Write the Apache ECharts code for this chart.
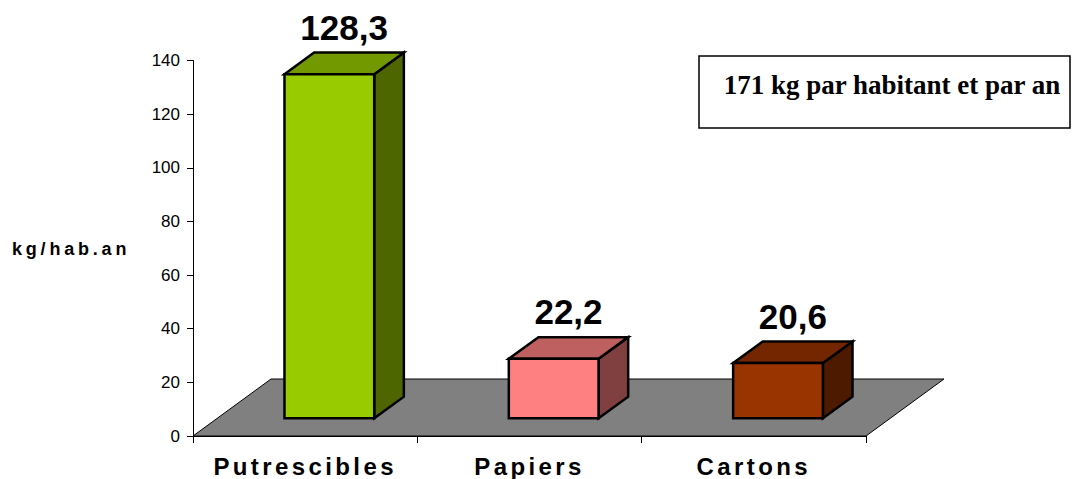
<!DOCTYPE html>
<html>
<head>
<meta charset="utf-8">
<script src="https://cdn.jsdelivr.net/npm/echarts@6/dist/echarts.min.js"></script>
<style>
  html, body { margin: 0; padding: 0; background: #fff; }
  #chart { width: 1073px; height: 479px; }
  /* spaced-out lettering for the category names and the unit label */
  #chart text[style*="24px"] { letter-spacing: 3.4px; }
  #chart text[style*="18px"] { letter-spacing: 3.8px; }
</style>
</head>
<body>
<div id="chart"></div>
<script>
// Household waste per inhabitant, by fraction (kg/hab.an)
const categories = ['Putrescibles', 'Papiers', 'Cartons'];
const values = [128.3, 22.2, 20.6];

// value axis ticks
const yMin = 0;
const yMax = 140;
const yStep = 20;

const unitLabel = 'kg/hab.an';
const totalNote = '171 kg par habitant et par an';

// face colours: front, top, right side
const frontColors = ['#99CC00', '#FF8080', '#993300'];
const topColors   = ['#739900', '#BF6060', '#732600'];
const sideColors  = ['#4D6600', '#804040', '#4D1A00'];

// pseudo-3D geometry (pixels): depth vector of the floor, where the bars sit in it
const DEPTH = [78, -57];
const FRONT = 0.31;
const BACK = 0.69;
const BAR_RATIO = 0.40;

const fmt = v => String(v).replace('.', ',');

function renderFloor(params, api) {
  const cs = params.coordSys;
  const y0 = api.coord([0, 0])[1];
  const x0 = cs.x, x1 = cs.x + cs.width;
  return {
    type: 'polygon',
    silent: true,
    shape: { points: [[x0, y0], [x1, y0], [x1 + DEPTH[0], y0 + DEPTH[1]], [x0 + DEPTH[0], y0 + DEPTH[1]]] },
    style: { fill: '#808080', stroke: '#000', lineWidth: 1 }
  };
}

function renderBar(params, api) {
  const i = api.value(0);
  const v = api.value(1);
  const base = api.coord([i, 0]);
  const top = api.coord([i, v]);
  const w = api.size([1, 0])[0] * BAR_RATIO;
  const dxF = DEPTH[0] * FRONT, dyF = DEPTH[1] * FRONT;
  const bdx = DEPTH[0] * (BACK - FRONT), bdy = DEPTH[1] * (BACK - FRONT);
  const x0 = base[0] - w / 2 + dxF;
  const x1 = x0 + w;
  const yb = base[1] + dyF;
  const yt = top[1] + dyF;
  const line = { stroke: '#000', lineWidth: 2.5, lineJoin: 'miter' };
  return {
    type: 'group',
    children: [
      {
        type: 'polygon',
        shape: { points: [[x1, yt], [x1 + bdx, yt + bdy], [x1 + bdx, yb + bdy], [x1, yb]] },
        style: Object.assign({ fill: sideColors[i] }, line)
      },
      {
        type: 'polygon',
        shape: { points: [[x0, yt], [x1, yt], [x1 + bdx, yt + bdy], [x0 + bdx, yt + bdy]] },
        style: Object.assign({ fill: topColors[i] }, line)
      },
      {
        type: 'rect',
        shape: { x: x0, y: yt, width: w, height: yb - yt },
        style: Object.assign({ fill: frontColors[i] }, line)
      },
      {
        type: 'text',
        x: x0 + w / 2 + bdx / 2,
        y: yt - 47,
        style: {
          text: fmt(v),
          font: 'bold 35px "Liberation Sans", Arial, sans-serif',
          fill: '#000',
          align: 'center',
          verticalAlign: 'middle'
        }
      }
    ]
  };
}

const chart = echarts.init(document.getElementById('chart'), null, { renderer: 'svg' });

chart.setOption({
  animation: false,
  backgroundColor: '#fff',
  grid: { left: 193, right: 207, top: 60.5, bottom: 43 },
  xAxis: {
    type: 'category',
    data: categories,
    boundaryGap: true,
    axisLine: { lineStyle: { color: '#000', width: 1 } },
    axisTick: { show: true, length: 7, alignWithLabel: false, lineStyle: { color: '#000' } },
    axisLabel: {
      interval: 0,
      margin: 18,
      color: '#000',
      fontSize: 24,
      fontWeight: 'bold',
      fontFamily: '"Liberation Sans", Arial, sans-serif',
      lineHeight: 24
    },
    splitLine: { show: false }
  },
  yAxis: {
    type: 'value',
    min: yMin,
    max: yMax,
    interval: yStep,
    axisLine: { show: true, lineStyle: { color: '#000', width: 1 } },
    axisTick: { show: true, length: 6, lineStyle: { color: '#000' } },
    axisLabel: {
      margin: 13,
      color: '#000',
      fontSize: 17,
      fontFamily: '"Liberation Sans", Arial, sans-serif'
    },
    splitLine: { show: false }
  },
  graphic: [
    {
      type: 'text',
      x: 12,
      y: 249,
      style: {
        text: unitLabel,
        font: 'bold 18px "Liberation Sans", Arial, sans-serif',
        fill: '#000',
        align: 'left',
        verticalAlign: 'middle'
      }
    },
    {
      type: 'rect',
      x: 699,
      y: 56,
      shape: { width: 371, height: 72 },
      style: { fill: '#fff', stroke: '#000', lineWidth: 1.5 }
    },
    {
      type: 'text',
      x: 892,
      y: 85,
      style: {
        text: totalNote,
        font: 'bold 27px "Liberation Serif", "Times New Roman", serif',
        fill: '#000',
        align: 'center',
        verticalAlign: 'middle'
      }
    }
  ],
  series: [
    {
      type: 'custom',
      name: 'floor',
      z: 1,
      silent: true,
      renderItem: renderFloor,
      data: [[0, 0]],
      encode: { x: 0, y: 1 }
    },
    {
      type: 'custom',
      name: 'kg/hab.an',
      z: 3,
      renderItem: renderBar,
      data: values.map((v, i) => [i, v]),
      encode: { x: 0, y: 1 }
    }
  ]
});
</script>
</body>
</html>
